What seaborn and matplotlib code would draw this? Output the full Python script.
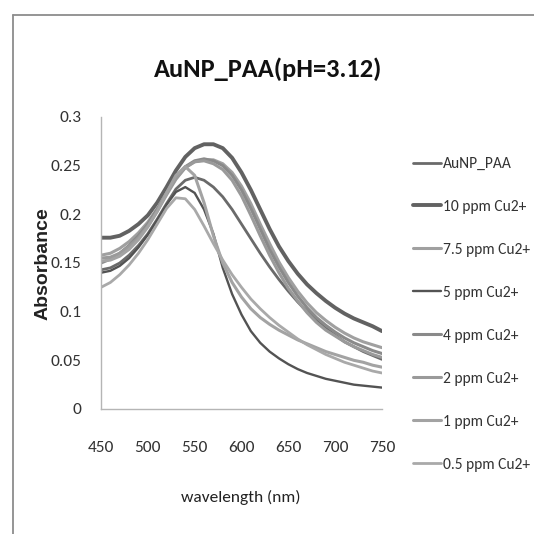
import matplotlib
matplotlib.use("Agg")
import matplotlib.pyplot as plt
from matplotlib import font_manager
from matplotlib.lines import Line2D
import seaborn as sns
import pandas as pd

wavelength = list(range(450, 760, 10))

series_names = ["AuNP_PAA", "10 ppm Cu2+", "7.5 ppm Cu2+", "5 ppm Cu2+",
                "4 ppm Cu2+", "2 ppm Cu2+", "1 ppm Cu2+", "0.5 ppm Cu2+"]

auNP_PAA = [0.143, 0.145, 0.150, 0.158, 0.168, 0.180, 0.195, 0.211, 0.226, 0.235,
            0.238, 0.235, 0.228, 0.218, 0.205, 0.190, 0.175, 0.160, 0.146, 0.133,
            0.121, 0.110, 0.100, 0.091, 0.083, 0.076, 0.069, 0.064, 0.059, 0.055, 0.051]
ppm_10 = [0.176, 0.176, 0.178, 0.183, 0.190, 0.199, 0.212, 0.228, 0.245, 0.259,
          0.268, 0.272, 0.272, 0.268, 0.258, 0.243, 0.225, 0.205, 0.185, 0.167,
          0.152, 0.139, 0.128, 0.119, 0.111, 0.104, 0.098, 0.093, 0.089, 0.085, 0.080]
ppm_7_5 = [0.158, 0.160, 0.165, 0.172, 0.181, 0.192, 0.206, 0.222, 0.237, 0.248,
           0.254, 0.256, 0.256, 0.252, 0.243, 0.229, 0.211, 0.190, 0.170, 0.151,
           0.135, 0.121, 0.109, 0.099, 0.091, 0.084, 0.078, 0.073, 0.069, 0.066, 0.063]
ppm_5 = [0.140, 0.142, 0.147, 0.155, 0.166, 0.179, 0.194, 0.210, 0.223, 0.228,
         0.222, 0.205, 0.180, 0.145, 0.118, 0.097, 0.080, 0.068, 0.059, 0.052,
         0.046, 0.041, 0.037, 0.034, 0.031, 0.029, 0.027, 0.025, 0.024, 0.023, 0.022]
ppm_4 = [0.150, 0.154, 0.160, 0.168, 0.178, 0.190, 0.205, 0.222, 0.238, 0.249,
         0.255, 0.257, 0.255, 0.250, 0.240, 0.225, 0.206, 0.185, 0.164, 0.146,
         0.130, 0.116, 0.104, 0.094, 0.086, 0.079, 0.073, 0.068, 0.064, 0.060, 0.057]
ppm_2 = [0.155, 0.156, 0.160, 0.167, 0.176, 0.188, 0.203, 0.220, 0.236, 0.248,
         0.254, 0.255, 0.252, 0.246, 0.235, 0.219, 0.199, 0.178, 0.158, 0.140,
         0.124, 0.111, 0.099, 0.089, 0.081, 0.075, 0.069, 0.064, 0.060, 0.056, 0.053]
ppm_1 = [0.152, 0.153, 0.157, 0.164, 0.174, 0.187, 0.203, 0.222, 0.240, 0.249,
         0.240, 0.212, 0.178, 0.150, 0.130, 0.115, 0.103, 0.094, 0.087, 0.081,
         0.076, 0.071, 0.067, 0.063, 0.059, 0.056, 0.053, 0.050, 0.048, 0.045, 0.043]
ppm_0_5 = [0.125, 0.130, 0.138, 0.148, 0.160, 0.174, 0.190, 0.206, 0.217, 0.216,
           0.205, 0.188, 0.170, 0.153, 0.138, 0.125, 0.113, 0.103, 0.094, 0.086,
           0.079, 0.072, 0.066, 0.061, 0.056, 0.052, 0.048, 0.045, 0.042, 0.039, 0.037]

all_values = [auNP_PAA, ppm_10, ppm_7_5, ppm_5, ppm_4, ppm_2, ppm_1, ppm_0_5]

y_ticks = [0, 0.05, 0.1, 0.15, 0.2, 0.25, 0.3]
y_tick_labels = ["0", "0.05", "0.1", "0.15", "0.2", "0.25", "0.3"]
x_ticks = [450, 500, 550, 600, 650, 700, 750]

colors = ["#6a6a6a", "#626262", "#a0a0a0", "#535353",
          "#8a8a8a", "#9a9a9a", "#a3a3a3", "#a9a9a9"]
widths = [2.0, 2.8, 2.2, 1.7, 2.2, 2.2, 2.2, 2.0]

rows = []
for name, vals in zip(series_names, all_values):
    for w, v in zip(wavelength, vals):
        rows.append({"wavelength": w, "absorbance": v, "series": name})
df = pd.DataFrame(rows)

sns.set_theme(style="white")

avail = {f.name for f in font_manager.fontManager.ttflist}
cands = ["Carlito", "Liberation Sans Narrow", "Roboto Condensed", "Open Sans Condensed",
         "Archivo Narrow", "PT Sans Narrow", "Fira Sans Condensed", "Lato"]
main_font = next((c for c in cands if c in avail), "DejaVu Sans")
plt.rcParams["font.family"] = [main_font, "DejaVu Sans"]
bold_font = next((c for c in ["Liberation Sans", "Arimo", "Arial"] if c in avail), "DejaVu Sans")

fig = plt.figure(figsize=(5.34, 5.34), dpi=100)
W = H = 534.0
ax = fig.add_axes([101 / W, 1 - 409 / H, (382 - 101) / W, (409 - 117) / H])

palette = dict(zip(series_names, colors))
sns.lineplot(data=df, x="wavelength", y="absorbance", hue="series",
             hue_order=series_names, palette=palette, ax=ax, legend=False,
             estimator=None, sort=True)
for ln, lw in zip(ax.lines, widths):
    ln.set_linewidth(lw)
    ln.set_solid_capstyle("round")

ax.set_xlim(450, 750)
ax.set_ylim(0, 0.3)
ax.set_xticks(x_ticks)
ax.set_xticklabels([str(t) for t in x_ticks])
ax.set_yticks(y_ticks)
ax.set_yticklabels(y_tick_labels)
ax.tick_params(axis="both", length=0, labelsize=12.5, labelcolor="#333333")
ax.tick_params(axis="x", pad=23)
ax.tick_params(axis="y", pad=14)
for side in ["top", "right"]:
    ax.spines[side].set_visible(False)
for side in ["left", "bottom"]:
    ax.spines[side].set_color("#b5b5b5")
    ax.spines[side].set_linewidth(1.0)
ax.set_xlabel("")
ax.set_ylabel("")

fig.text(43 / W, 1 - 264 / H, "Absorbance", rotation=90, ha="center", va="center",
         fontsize=14, fontweight="bold", color="#222222",
         family=[bold_font, "DejaVu Sans"])
fig.text(241 / W, 1 - 497 / H, "wavelength (nm)", ha="center", va="center",
         fontsize=12.5, color="#222222")
fig.text(268 / W, 1 - 69 / H, "AuNP_PAA(pH=3.12)", ha="center", va="center",
         fontsize=19, fontweight="bold", color="#111111")

handles = [Line2D([0], [0], color=c, lw=lw) for c, lw in zip(colors, widths)]
leg = fig.legend(handles, series_names, loc="upper left",
                 bbox_to_anchor=(413 / W, 1 - 157 / H), frameon=False,
                 fontsize=11.2, handlelength=1.8, handletextpad=0.12,
                 labelspacing=1.86, borderaxespad=0, borderpad=0)
for t in leg.get_texts():
    t.set_color("#333333")

# outer chart frame (top and left edges visible)
fig.add_artist(Line2D([13 / W, 1.0], [1 - 15 / H, 1 - 15 / H], color="#8c8c8c", lw=1.3))
fig.add_artist(Line2D([13 / W, 13 / W], [0.0, 1 - 15 / H], color="#8c8c8c", lw=1.3))

fig.savefig("out.png", dpi=100)
